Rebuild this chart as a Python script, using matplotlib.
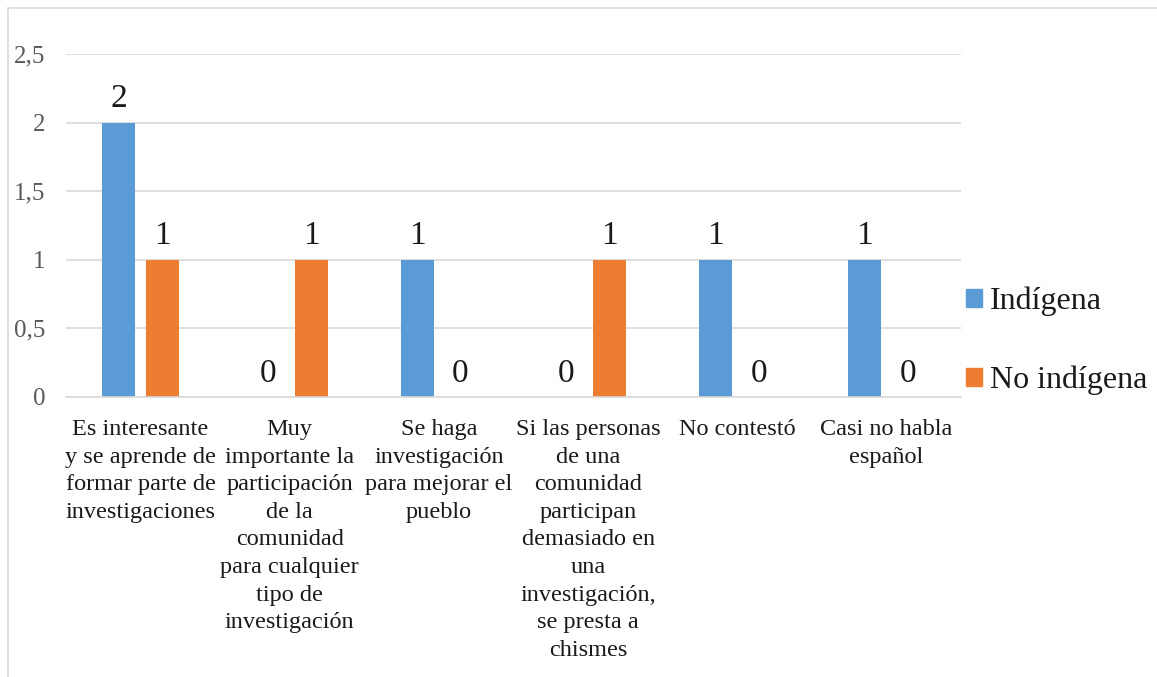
import matplotlib.pyplot as plt
from matplotlib.patches import Rectangle, Patch
import numpy as np

plt.rcParams['font.family'] = ['Liberation Serif', 'DejaVu Serif']

categorias = [
    "Es interesante\ny se aprende de\nformar parte de\ninvestigaciones",
    "Muy\nimportante la\nparticipación\nde la\ncomunidad\npara cualquier\ntipo de\ninvestigación",
    "Se haga\ninvestigación\npara mejorar el\npueblo",
    "Si las personas\nde una\ncomunidad\nparticipan\ndemasiado en\nuna\ninvestigación,\nse presta a\nchismes",
    "No contestó",
    "Casi no habla\nespañol",
]
indigena = [2, 0, 1, 0, 1, 1]
no_indigena = [1, 1, 0, 1, 0, 0]
series = ["Indígena", "No indígena"]
colores = ["#5B9BD5", "#ED7D31"]

fig = plt.figure(figsize=(11.57, 6.77), dpi=100)
ax = fig.add_axes([0.057, 0.4136, 0.7736, 0.5066])

# marco del grafico
fig.patches.append(Rectangle((8 / 1157, -0.1), 1.2, 1 - 8 / 677 + 0.1,
                             transform=fig.transFigure, fill=False,
                             edgecolor="#D9D9D9", linewidth=1.2))

x = np.arange(len(categorias))
w = 0.22
off = 0.145
b1 = ax.bar(x - off, indigena, w, color=colores[0])
b2 = ax.bar(x + off, no_indigena, w, color=colores[1])

for barras in (b1, b2):
    for b in barras:
        ax.annotate(str(int(b.get_height())), (b.get_x() + b.get_width() / 2, b.get_height()),
                    xytext=(0, 6), textcoords="offset points", ha="center", va="bottom",
                    fontsize=24, color="#1a1a1a")

ax.set_xlim(-0.5, len(categorias) - 0.5)
ax.set_ylim(0, 2.5)
ax.set_yticks([0, 0.5, 1, 1.5, 2, 2.5])
ax.set_yticklabels(["0", "0,5", "1", "1,5", "2", "2,5"])
ax.set_xticks(x)
ax.set_xticklabels(categorias, fontsize=17.5, linespacing=1.41, color="#1a1a1a", va="top")
ax.tick_params(axis="y", labelsize=18, labelcolor="#595959", length=0, pad=15)
ax.tick_params(axis="x", length=0, pad=16)
ax.grid(axis="y", color="#D9D9D9", linewidth=1.2)
ax.set_axisbelow(True)
for s in ["top", "right", "left"]:
    ax.spines[s].set_visible(False)
ax.spines["bottom"].set_color("#D9D9D9")
ax.spines["bottom"].set_linewidth(1.2)

manejadores = [Patch(color=c) for c in colores]
fig.legend(manejadores, series, loc="center left", bbox_to_anchor=(0.81, 0.496),
           frameon=False, fontsize=23, handlelength=0.5, handleheight=0.5,
           handletextpad=0.25, labelspacing=1.55, labelcolor="#1a1a1a")

fig.savefig("out.png", dpi=100, facecolor="white")
